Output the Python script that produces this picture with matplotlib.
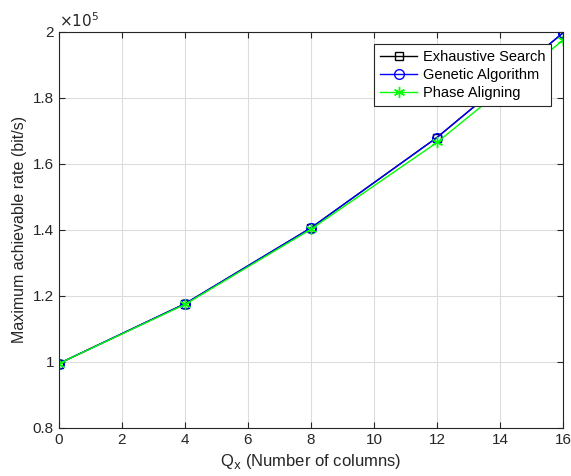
import numpy as np
import matplotlib.pyplot as plt
from matplotlib.ticker import FuncFormatter

plt.rcParams['font.family'] = ['Liberation Sans', 'DejaVu Sans']

qx = [0, 4, 8, 12, 16]
exhaustive = [0.995e5, 1.176e5, 1.406e5, 1.68e5, 1.997e5]
genetic = [0.995e5, 1.176e5, 1.406e5, 1.68e5, 1.997e5]
phase = [0.995e5, 1.174e5, 1.402e5, 1.665e5, 1.975e5]

fig = plt.figure(figsize=(5.71, 4.76), dpi=100)
ax = fig.add_axes([0.103, 0.101, 0.883, 0.832])

ax.plot(qx, exhaustive, color='black', marker='s', markersize=6, markerfacecolor='none',
        linewidth=1, label='Exhaustive Search')
ax.plot(qx, genetic, color='blue', marker='o', markersize=7, markerfacecolor='none',
        linewidth=1, label='Genetic Algorithm')
# MATLAB-style asterisk marker
ax.plot(qx, phase, color='#00ff00', marker=(6, 2, 0), markersize=8, markeredgewidth=1,
        linewidth=1, label='Phase Aligning')

ax.set_xlim(0, 16)
ax.set_ylim(0.8e5, 2e5)
ax.set_xticks(np.arange(0, 17, 2))
ax.set_yticks(np.arange(0.8e5, 2.01e5, 0.2e5))
ax.yaxis.set_major_formatter(FuncFormatter(lambda v, p: '%g' % round(v / 1e5, 1)))
ax.grid(True, color='#dcdcdc', linewidth=0.8)
ax.set_axisbelow(True)
ax.tick_params(direction='in', top=True, right=True, labelsize=11, colors='#262626',
               length=4)
for s in ax.spines.values():
    s.set_color('#262626')
    s.set_linewidth(0.8)

ax.text(0.0, 1.005, r'$\times10^{5}$', transform=ax.transAxes, fontsize=11,
        color='#262626', va='bottom', ha='left')

ax.set_xlabel(r'Q$_\mathrm{x}$ (Number of columns)', fontsize=12, color='#262626')
ax.set_ylabel('Maximum achievable rate (bit/s)', fontsize=11.5, color='#262626')

leg = ax.legend(loc='upper right', bbox_to_anchor=(0.976, 0.97), fontsize=10.5,
                fancybox=False, framealpha=1, edgecolor='#262626', borderaxespad=0,
                handlelength=2.5, borderpad=0.4, labelspacing=0.3, handletextpad=0.4)
leg.get_frame().set_linewidth(0.8)

fig.savefig('out.png', dpi=100)
